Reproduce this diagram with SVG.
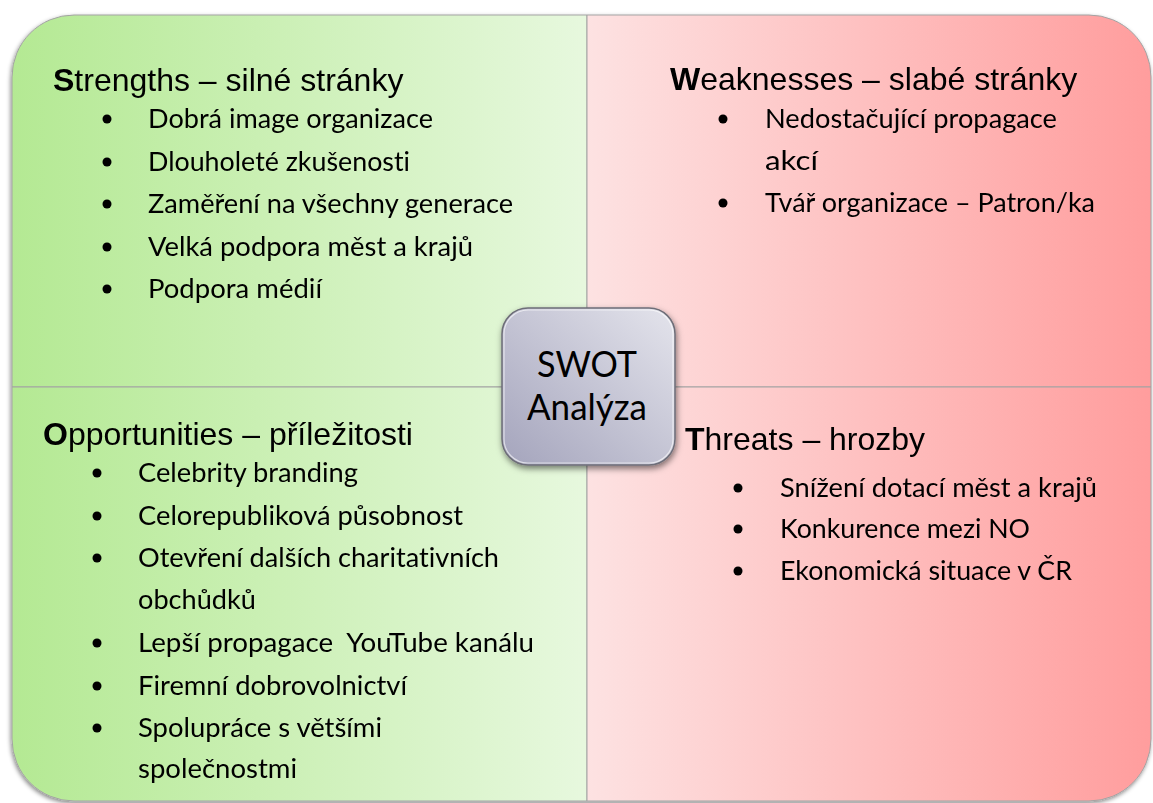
<svg xmlns="http://www.w3.org/2000/svg" width="1153" height="803" viewBox="0 0 1153 803">
<defs>
<linearGradient id="gGreen" gradientUnits="userSpaceOnUse" x1="12" y1="0" x2="587" y2="0">
<stop offset="0" stop-color="#b4e993"/><stop offset="1" stop-color="#e7f8de"/>
</linearGradient>
<linearGradient id="gRed" gradientUnits="userSpaceOnUse" x1="587" y1="0" x2="1152" y2="0">
<stop offset="0" stop-color="#fde2e2"/><stop offset="1" stop-color="#ff9d9d"/>
</linearGradient>
<linearGradient id="gGray" x1="1" y1="0" x2="0" y2="1">
<stop offset="0" stop-color="#e4e4ec"/><stop offset="1" stop-color="#a4a4bc"/>
</linearGradient>
<filter id="shadow" x="-10%" y="-10%" width="120%" height="120%">
<feDropShadow dx="-1" dy="2" stdDeviation="2" flood-color="#000" flood-opacity="0.45"/>
</filter>
<filter id="shadow2" x="-20%" y="-20%" width="140%" height="140%">
<feDropShadow dx="1" dy="3" stdDeviation="3" flood-color="#000" flood-opacity="0.5"/>
</filter>
</defs>
<style>
.quad{stroke:#a3a3a3;stroke-width:1}
.head{font-family:"Liberation Sans",Arial,sans-serif;font-size:32px;fill:#000}
.head .b{font-weight:bold}
.item{font-family:Lato,"Open Sans",sans-serif;font-size:26.5px;fill:#000;font-variant-ligatures:none}
.dot{fill:#000}
.title{font-family:Lato,"Open Sans",sans-serif;font-size:36px;fill:#000;text-anchor:middle;font-variant-ligatures:none}
</style>
<g filter="url(#shadow)">
<g id="strengths">
<path class="quad" fill="url(#gGreen)" d="M12,77 A62,62 0 0 1 74,15 L587,15 L587,387 L12,387 Z"/>
<text class="head" x="53" y="91"><tspan class="b">S</tspan>trengths – silné stránky</text>
<circle class="dot" cx="107" cy="119" r="4.5"/>
<circle class="dot" cx="107" cy="162" r="4.5"/>
<circle class="dot" cx="107" cy="204" r="4.5"/>
<circle class="dot" cx="107" cy="247" r="4.5"/>
<circle class="dot" cx="107" cy="289" r="4.5"/>
<text class="item" x="148" y="128" textLength="285" lengthAdjust="spacingAndGlyphs">Dobrá image organizace</text>
<text class="item" x="148" y="170.5" textLength="262" lengthAdjust="spacingAndGlyphs">Dlouholeté zkušenosti</text>
<text class="item" x="148" y="213" textLength="365" lengthAdjust="spacingAndGlyphs">Zaměření na všechny generace</text>
<text class="item" x="148" y="255.5" textLength="325" lengthAdjust="spacingAndGlyphs">Velká podpora měst a krajů</text>
<text class="item" x="148" y="298" textLength="174" lengthAdjust="spacingAndGlyphs">Podpora médií</text>
</g>
<g id="weaknesses">
<path class="quad" fill="url(#gRed)" d="M587,15 L1089,15 A62,62 0 0 1 1151,77 L1151,387 L587,387 Z"/>
<text class="head" x="670" y="90"><tspan class="b">W</tspan>eaknesses – slabé stránky</text>
<circle class="dot" cx="723" cy="119" r="4.5"/>
<circle class="dot" cx="723" cy="203" r="4.5"/>
<text class="item" x="765" y="128" textLength="292" lengthAdjust="spacingAndGlyphs">Nedostačující propagace</text>
<text class="item" x="765" y="170" textLength="53" lengthAdjust="spacingAndGlyphs">akcí</text>
<text class="item" x="765" y="212" textLength="330" lengthAdjust="spacingAndGlyphs">Tvář organizace – Patron/ka</text>
</g>
<g id="opportunities">
<path class="quad" fill="url(#gGreen)" d="M12,387 L587,387 L587,801 L74,801 A62,62 0 0 1 12,739 Z"/>
<text class="head" x="43" y="445"><tspan class="b">O</tspan>pportunities – příležitosti</text>
<circle class="dot" cx="97" cy="473" r="4.5"/>
<circle class="dot" cx="97" cy="516" r="4.5"/>
<circle class="dot" cx="97" cy="558" r="4.5"/>
<circle class="dot" cx="97" cy="643" r="4.5"/>
<circle class="dot" cx="97" cy="686" r="4.5"/>
<circle class="dot" cx="97" cy="728" r="4.5"/>
<text class="item" x="138" y="482" textLength="220" lengthAdjust="spacingAndGlyphs">Celebrity branding</text>
<text class="item" x="138" y="525" textLength="325" lengthAdjust="spacingAndGlyphs">Celorepubliková působnost</text>
<text class="item" x="138" y="567" textLength="361" lengthAdjust="spacingAndGlyphs">Otevření dalších charitativních</text>
<text class="item" x="138" y="609" textLength="118" lengthAdjust="spacingAndGlyphs">obchůdků</text>
<text class="item" x="138" y="652" textLength="396" lengthAdjust="spacingAndGlyphs" xml:space="preserve">Lepší propagace  YouTube kanálu</text>
<text class="item" x="138" y="695" textLength="269" lengthAdjust="spacingAndGlyphs">Firemní dobrovolnictví</text>
<text class="item" x="138" y="737" textLength="244" lengthAdjust="spacingAndGlyphs">Spolupráce s většími</text>
<text class="item" x="138" y="778" textLength="159" lengthAdjust="spacingAndGlyphs">společnostmi</text>
</g>
<g id="threats">
<path class="quad" fill="url(#gRed)" d="M587,387 L1151,387 L1151,739 A62,62 0 0 1 1089,801 L587,801 Z"/>
<text class="head" x="685" y="450"><tspan class="b">T</tspan>hreats – hrozby</text>
<circle class="dot" cx="738" cy="488" r="4.5"/>
<circle class="dot" cx="738" cy="529" r="4.5"/>
<circle class="dot" cx="738" cy="571" r="4.5"/>
<text class="item" x="780" y="497" textLength="317" lengthAdjust="spacingAndGlyphs">Snížení dotací měst a krajů</text>
<text class="item" x="780" y="538" textLength="250" lengthAdjust="spacingAndGlyphs">Konkurence mezi NO</text>
<text class="item" x="780" y="580" textLength="292" lengthAdjust="spacingAndGlyphs">Ekonomická situace v ČR</text>
</g>
</g>
<g id="swot-center">
<rect x="502" y="308" width="173" height="157" rx="26" ry="26" fill="url(#gGray)" stroke="#6e6e78" stroke-width="1.5" filter="url(#shadow2)"/>
<rect x="504" y="310" width="169" height="153" rx="24" ry="24" fill="none" stroke="#ffffff" stroke-opacity="0.6" stroke-width="1.2"/>
<text class="title" x="587" y="377" textLength="100" lengthAdjust="spacingAndGlyphs">SWOT</text>
<text class="title" x="587" y="420" textLength="120" lengthAdjust="spacingAndGlyphs">Analýza</text>
</g>
</svg>
